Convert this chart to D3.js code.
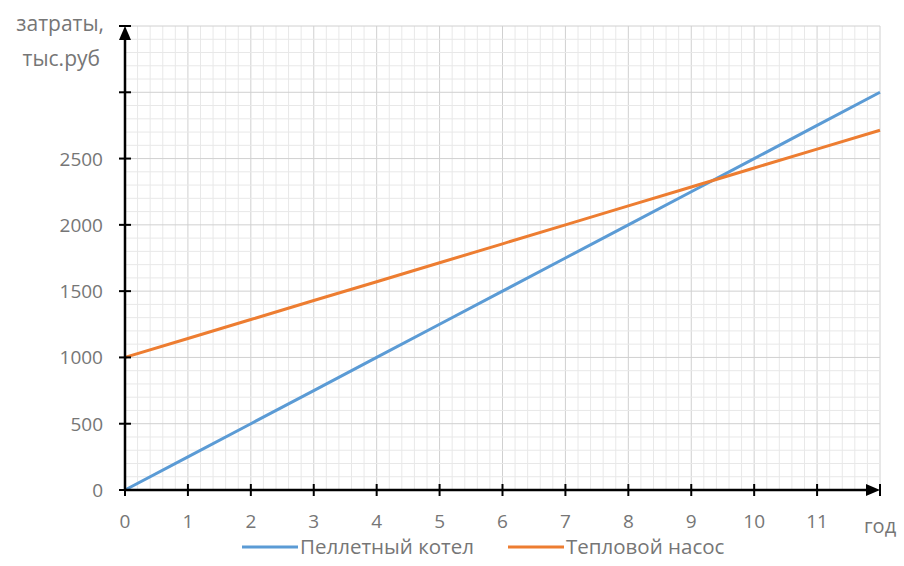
<!DOCTYPE html>
<html><head><meta charset="utf-8">
<script src="https://cdn.jsdelivr.net/npm/d3@7"></script>
<style>body{margin:0;background:#fff}svg{display:block}text{font-family:"Open Sans",sans-serif}</style>
</head><body><svg id="c" width="904" height="566"></svg>
<script>
const years = [0,1,2,3,4,5,6,7,8,9,10,11,12];
const pellet = [0,250,500,750,1000,1250,1500,1750,2000,2250,2500,2750,3000];
const heatPump = [1000,1143,1286,1429,1571,1714,1857,2000,2143,2286,2429,2571,2714];
const seriesNames = ["Пеллетный котел","Тепловой насос"];
const xTicks = [0,1,2,3,4,5,6,7,8,9,10,11];
const yTicks = [0,500,1000,1500,2000,2500,3000];
const yLabels = ["0","500","1000","1500","2000","2500",""];
const colors = ["#5b9bd5","#ed7d31"];
const textColor = "#767676";

const svg = d3.select("#c");
const x = d3.scaleLinear().domain([0,12]).range([125,880]);
const y = d3.scaleLinear().domain([0,3500]).range([490,26]);

// grid
const g = svg.append("g");
for (let v=0; v<=12.0001; v+=0.2){
  const major = Math.abs(v-Math.round(v))<1e-6;
  g.append("line").attr("x1",x(v)).attr("x2",x(v)).attr("y1",y(0)).attr("y2",y(3500))
   .attr("stroke",major?"#d0d0d0":"#e8e8e8").attr("stroke-width",1);
}
for (let v=0; v<=3500; v+=100){
  const major = v%500===0;
  g.append("line").attr("x1",x(0)).attr("x2",x(12)).attr("y1",y(v)).attr("y2",y(v))
   .attr("stroke",major?"#d0d0d0":"#e8e8e8").attr("stroke-width",1);
}

// lines
const line = d3.line().x((d,i)=>x(years[i])).y(d=>y(d));
[pellet,heatPump].forEach((s,i)=>{
  svg.append("path").attr("d",line(s)).attr("fill","none").attr("stroke",colors[i]).attr("stroke-width",3);
});

// axes
const ax = svg.append("g").attr("stroke","#000");
ax.append("line").attr("x1",x(0)).attr("x2",x(12)-8).attr("y1",y(0)).attr("y2",y(0)).attr("stroke-width",2.5);
ax.append("line").attr("x1",x(0)).attr("x2",x(0)).attr("y1",y(0)).attr("y2",y(3500)+8).attr("stroke-width",2.5);
svg.append("path").attr("d",`M${x(12)-14},${y(0)-6}L${x(12)},${y(0)}L${x(12)-14},${y(0)+6}Z`).attr("fill","#000");
svg.append("path").attr("d",`M${x(0)-6},${y(3500)+14}L${x(0)},${y(3500)}L${x(0)+6},${y(3500)+14}Z`).attr("fill","#000");
ax.append("line").attr("x1",x(12)).attr("x2",x(12)).attr("y1",y(0)-6).attr("y2",y(0)+6).attr("stroke-width",2);
ax.append("line").attr("x1",x(0)-6).attr("x2",x(0)+6).attr("y1",y(3500)).attr("y2",y(3500)).attr("stroke-width",2);

xTicks.forEach(t=>{
  ax.append("line").attr("x1",x(t)).attr("x2",x(t)).attr("y1",y(0)-6).attr("y2",y(0)+6).attr("stroke-width",2);
  svg.append("text").attr("x",x(t)).attr("y",528).attr("text-anchor","middle").attr("font-size",19).attr("fill",textColor).text(t);
});
yTicks.forEach((t,i)=>{
  ax.append("line").attr("x1",x(0)-6).attr("x2",x(0)+6).attr("y1",y(t)).attr("y2",y(t)).attr("stroke-width",2);
  svg.append("text").attr("x",103).attr("y",y(t)+7).attr("text-anchor","end").attr("font-size",19).attr("fill",textColor).text(yLabels[i]);
});

svg.append("text").attr("x",864).attr("y",533).attr("font-size",20).attr("fill",textColor).text("год");
svg.append("text").attr("x",104).attr("y",31).attr("text-anchor","end").attr("font-size",21).attr("fill",textColor).text("затраты,");
svg.append("text").attr("x",100).attr("y",66).attr("text-anchor","end").attr("font-size",21).attr("fill",textColor).text("тыс.руб");

// legend
const legX = [242,508];
seriesNames.forEach((n,i)=>{
  svg.append("line").attr("x1",legX[i]).attr("x2",legX[i]+56).attr("y1",547).attr("y2",547).attr("stroke",colors[i]).attr("stroke-width",3);
  svg.append("text").attr("x",legX[i]+58).attr("y",554).attr("font-size",20.5).attr("fill",textColor).text(n);
});
</script></body></html>
